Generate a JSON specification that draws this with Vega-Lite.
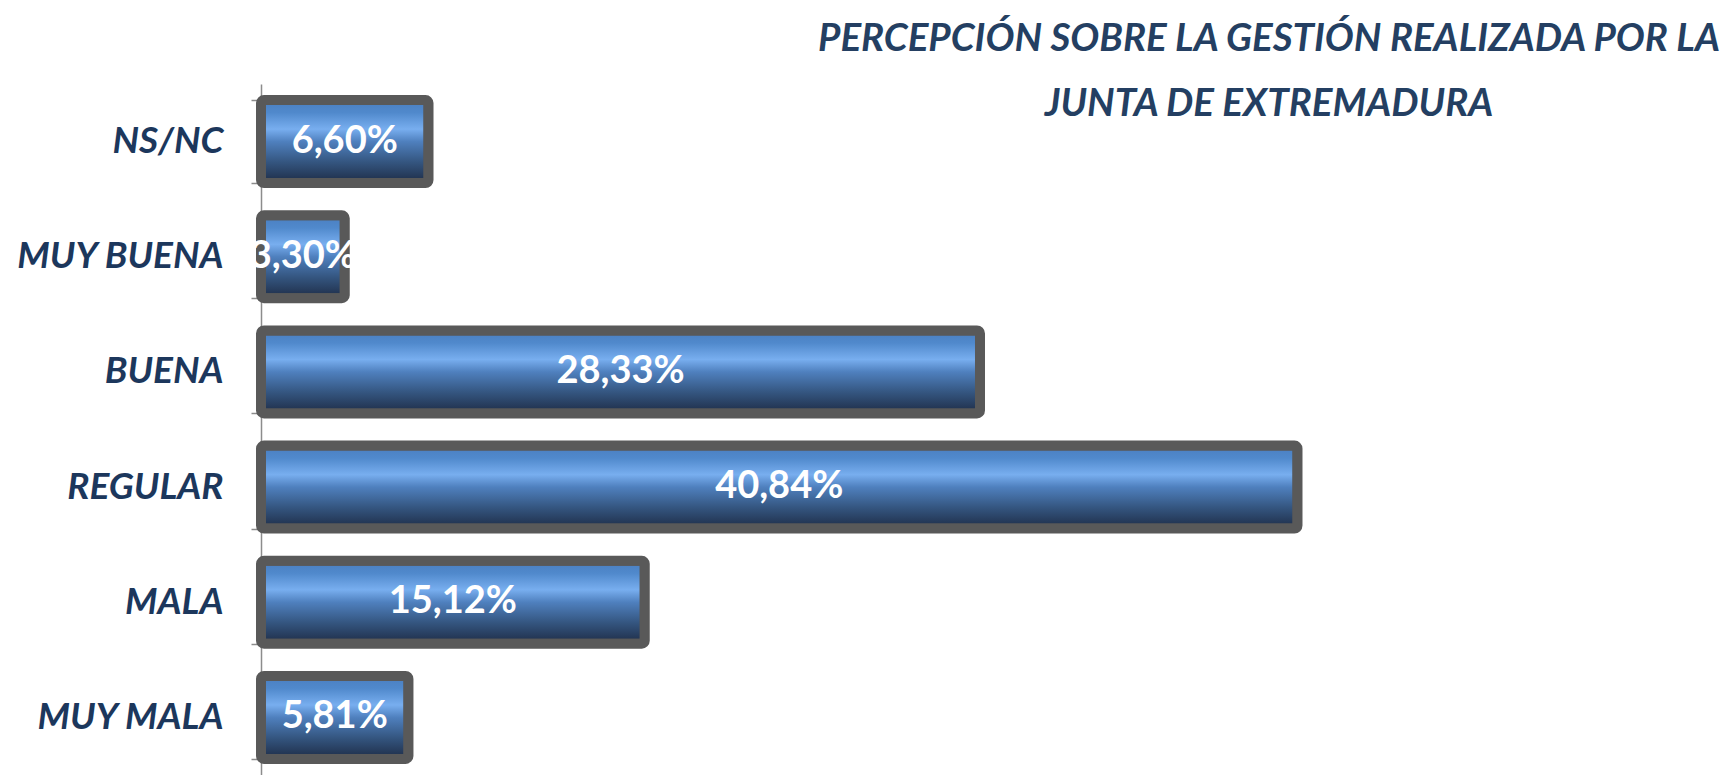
{
  "$schema": "https://vega.github.io/schema/vega-lite/v6.json",
  "width": 1472,
  "height": 691,
  "autosize": {"type": "none"},
  "padding": {"left": 261, "top": 84, "right": 0, "bottom": 0},
  "background": "white",
  "title": {
    "text": ["PERCEPCIÓN SOBRE LA GESTIÓN REALIZADA POR LA", "JUNTA DE EXTREMADURA"],
    "font": "Lato",
    "fontSize": 38.5,
    "fontWeight": "bold",
    "fontStyle": "italic",
    "color": "#243F62",
    "lineHeight": 65,
    "anchor": "middle",
    "frame": "group",
    "baseline": "alphabetic",
    "dx": 272,
    "dy": 89,
    "offset": 0
  },
  "data": {
    "values": [
      {"cat": "NS/NC", "value": 6.60, "label": "6,60%"},
      {"cat": "MUY BUENA", "value": 3.30, "label": "3,30%"},
      {"cat": "BUENA", "value": 28.33, "label": "28,33%"},
      {"cat": "REGULAR", "value": 40.84, "label": "40,84%"},
      {"cat": "MALA", "value": 15.12, "label": "15,12%"},
      {"cat": "MUY MALA", "value": 5.81, "label": "5,81%"}
    ]
  },
  "encoding": {
    "y": {
      "field": "cat",
      "type": "nominal",
      "sort": null,
      "scale": {"paddingInner": 0.28, "paddingOuter": 0.14},
      "axis": {
        "title": null,
        "domainColor": "#8C8C8C",
        "domainWidth": 1.5,
        "tickColor": "#8C8C8C",
        "tickWidth": 1.5,
        "tickSize": 10,
        "tickBand": "extent",
        "labelFont": "Lato",
        "labelFontSize": 37,
        "labelFontWeight": "bold",
        "labelFontStyle": "italic",
        "labelColor": "#1C375C",
        "labelPadding": 28,
        "labelLimit": 400
      }
    }
  },
  "layer": [
    {
      "mark": {
        "type": "bar",
        "stroke": "#595959",
        "strokeWidth": 10,
        "cornerRadius": 3,
        "fill": {
          "gradient": "linear",
          "x1": 0, "y1": 0, "x2": 0, "y2": 1,
          "stops": [
            {"offset": 0, "color": "#4A7EC0"},
            {"offset": 0.15, "color": "#5089CC"},
            {"offset": 0.35, "color": "#78AEEF"},
            {"offset": 0.5, "color": "#4F80BE"},
            {"offset": 0.75, "color": "#34557F"},
            {"offset": 1, "color": "#1E2C46"}
          ]
        }
      },
      "encoding": {
        "x": {"field": "value", "type": "quantitative", "scale": {"domain": [0, 58]}, "axis": null}
      }
    },
    {
      "mark": {
        "type": "text",
        "font": "Lato",
        "fontSize": 38,
        "fontWeight": "bold",
        "color": "white",
        "align": "center",
        "baseline": "middle"
      },
      "encoding": {
        "x": {"field": "value", "type": "quantitative", "scale": {"domain": [0, 116]}, "axis": null},
        "text": {"field": "label"}
      }
    }
  ],
  "resolve": {"scale": {"x": "independent"}},
  "config": {"view": {"stroke": null}}
}
